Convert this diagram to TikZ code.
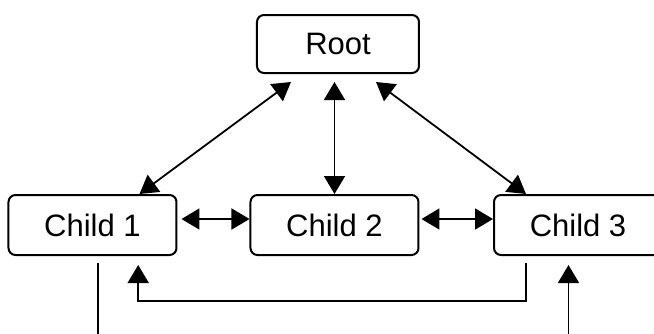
\documentclass[tikz,border=0pt]{standalone}
\usepackage{fontspec}
\setmainfont{Liberation Sans}
\usetikzlibrary{arrows.meta, positioning}

\begin{document}
\begin{tikzpicture}[>={Triangle[length=9pt,width=10.5pt]}, node distance=36pt,
                nodebox/.style={draw, line width=1pt, rounded corners=3.5pt, inner sep=0pt,
                    font=\fontsize{15.5}{18}\selectfont},
                link/.style={line width=0.9pt}]
                \useasboundingbox (-169pt,22pt) rectangle (158pt,-144.5pt);
                \node[nodebox, minimum width=81pt, minimum height=29pt] (root) {Root};
                \node[nodebox, minimum width=84pt, minimum height=30pt, below=60pt of root, xshift=-1.75pt] (c2) {Child 2};
                \node[nodebox, minimum width=84pt, minimum height=30pt, left=of c2] (c1) {Child 1};
                \node[nodebox, minimum width=84pt, minimum height=30pt, right=36.75pt of c2] (c3) {Child 3};
                \coordinate (c1free) at ([xshift=2.85pt]c1.south |- 0,-146pt);
                \coordinate (c3free) at ([xshift=-4.75pt]c3.south |- 0,-146pt);
                \draw[link, <->] ([xshift=17.5pt,yshift=-4pt]root.south west) -- ([xshift=66pt]c1.north west);
                \draw[link, <->] ([xshift=-22pt,yshift=-4pt]root.south east) -- ([xshift=16.5pt]c3.north west);
                \draw[link, <->, shorten <=4pt] (root.south -| c2.north) -- (c2.north);
                \draw[link, <->] ([yshift=3pt,xshift=2pt]c1.east) -- ([yshift=3pt]c2.west);
                \draw[link, <->] ([yshift=3pt,xshift=1pt]c2.east) -- ([yshift=3pt]c3.west);
                \draw[link] ([xshift=2.85pt,yshift=-3.5pt]c1.south) -- (c1free);
                \draw[link, ->, shorten >=4.5pt] (c3free) -- ([xshift=-4.75pt]c3.south);
                \draw[link, ->] ([xshift=16.5pt,yshift=-3.5pt]c3.south west) -- ++(0,-19pt)
                    -| ([xshift=65.35pt,yshift=-4.5pt]c1.south west);
\end{tikzpicture}
\end{document}
